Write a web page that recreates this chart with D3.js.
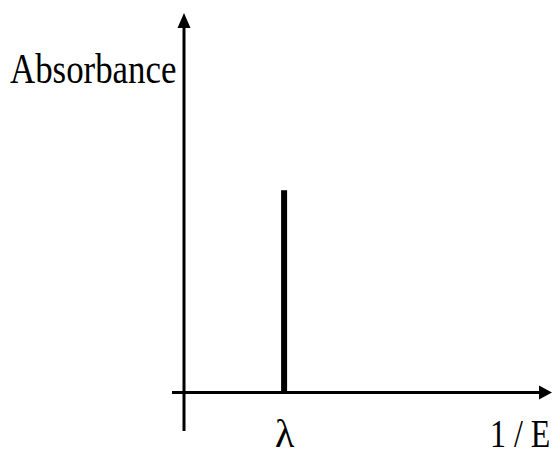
<!DOCTYPE html>
<html>
<head>
<meta charset="utf-8">
<script src="https://cdn.jsdelivr.net/npm/d3@7"></script>
<style>
  body { margin: 0; background: #fff; }
  text { font-family: "Liberation Serif", "DejaVu Serif", serif; fill: #000; }
</style>
</head>
<body>
<svg id="chart"></svg>
<script>
// Peak data: position along 1/E axis and absorbance height
const categories = ["λ"];
const peakPositions = [0.272];
const peakValues = [0.533];
const yLabel = "Absorbance";
const xLabel = "1 / E";

const width = 556,
    height = 457;

const svg = d3.select("#chart")
    .attr("width", width)
    .attr("height", height);

const x = d3.scaleLinear().domain([0, 1]).range([184, 552]);
const y = d3.scaleLinear().domain([0, 1]).range([392.5, 13]);

// y axis line (runs below the x axis a bit)
svg.append("line")
    .attr("x1", x(0)).attr("x2", x(0))
    .attr("y1", 431).attr("y2", y(1) + 12)
    .attr("stroke", "#000").attr("stroke-width", 3);

// x axis line (starts a little left of y axis)
svg.append("line")
    .attr("x1", 172).attr("x2", x(1) - 10)
    .attr("y1", y(0)).attr("y2", y(0))
    .attr("stroke", "#000").attr("stroke-width", 3);

// arrow heads
svg.append("path")
    .attr("d", `M${x(0)},${y(1)} L${x(0) - 6.5},${y(1) + 15} L${x(0) + 6.5},${y(1) + 15} Z`)
    .attr("fill", "#000");
svg.append("path")
    .attr("d", `M${x(1)},${y(0)} L${x(1) - 13},${y(0) - 7} L${x(1) - 13},${y(0) + 7} Z`)
    .attr("fill", "#000");

// the peak
svg.selectAll("rect.peak")
    .data(peakValues)
    .join("rect")
    .attr("class", "peak")
    .attr("x", (d, i) => x(peakPositions[i]) - 3)
    .attr("width", 6)
    .attr("y", d => y(d))
    .attr("height", d => y(0) - y(d))
    .attr("fill", "#000");

// tick label under the peak
const axis = d3.axisBottom(x)
    .tickValues(peakPositions)
    .tickFormat((d, i) => categories[i])
    .tickSize(0)
    .tickPadding(0);
const axisG = svg.append("g")
    .attr("transform", `translate(0, ${y(0)})`)
    .call(axis);
axisG.select(".domain").remove();
axisG.selectAll("text")
    .attr("dy", null)
    .attr("y", 54)
    .attr("font-size", 40)
    .attr("font-family", "Liberation Serif, serif")
    .attr("fill", "#000");

// axis titles (glyphs are narrow in the original, so squeeze horizontally)
svg.append("text")
    .attr("transform", "translate(10, 83) scale(0.83, 1)")
    .attr("font-size", 42)
    .text(yLabel);

svg.append("text")
    .attr("transform", "translate(490, 447) scale(0.78, 1)")
    .attr("font-size", 41)
    .text(xLabel);
</script>
</body>
</html>
